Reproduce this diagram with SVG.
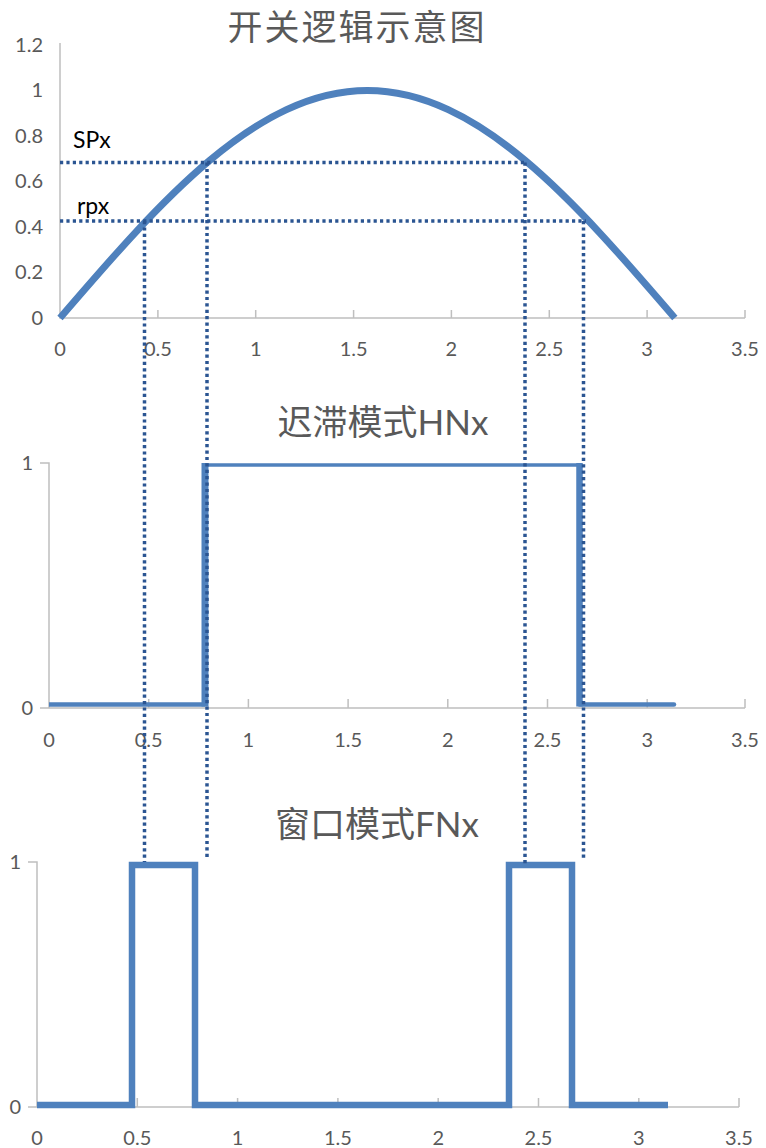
<svg xmlns="http://www.w3.org/2000/svg" width="766" height="1148" viewBox="0 0 766 1148">
<style>
.axis{stroke:#BFBFBF;stroke-width:1.5;fill:none}
.lbl{font-family:Lato,"Liberation Sans","Noto Sans CJK SC",sans-serif;font-size:20px;fill:#595959}
.ylbl{text-anchor:end}
.xlbl{text-anchor:middle}
.title{font-family:Lato,"Noto Sans CJK SC",sans-serif;font-size:35px;fill:#595959;text-anchor:middle}
.sig{stroke:#4F81BD;fill:none}
.dot{stroke:#2B5592;stroke-width:3.5;stroke-dasharray:3.2 3.2;fill:none}
.mark{font-family:Lato,"Liberation Sans",sans-serif;font-size:23px;fill:#000}
</style>
<rect width="766" height="1148" fill="#fff"/>

<g id="chart-sine">
  <text class="title" x="357" y="40" letter-spacing="2">开关逻辑示意图</text>
  <path class="axis" d="M60,43 V318 H745 M157.9,310 V318 M255.7,310 V318 M353.6,310 V318 M451.4,310 V318 M549.3,310 V318 M647.1,310 V318 M745,310 V318"/>
  <g class="lbl ylbl">
    <text x="43" y="52">1.2</text>
    <text x="43" y="97">1</text>
    <text x="43" y="143">0.8</text>
    <text x="43" y="188">0.6</text>
    <text x="43" y="234">0.4</text>
    <text x="43" y="279">0.2</text>
    <text x="43" y="325">0</text>
  </g>
  <g class="lbl xlbl">
    <text x="60" y="356">0</text>
    <text x="157.9" y="356">0.5</text>
    <text x="255.7" y="356">1</text>
    <text x="353.6" y="356">1.5</text>
    <text x="451.4" y="356">2</text>
    <text x="549.3" y="356">2.5</text>
    <text x="647.1" y="356">3</text>
    <text x="745" y="356">3.5</text>
  </g>
  <path class="sig" stroke-width="7" d="M60,318 C160.25,201.45 256.15,90.5 367.4,90.5 C478.66,90.5 574.55,201.45 674.81,318"/>
  <text class="mark" x="73" y="148">SPx</text>
  <text class="mark" x="77" y="214">rpx</text>
</g>

<g id="chart-hnx">
  <text class="title" x="383" y="435">迟滞模式HNx</text>
  <path class="axis" d="M40,463 H49 V708 M40,708 H745 M148.7,699 V708 M248.4,699 V708 M348.1,699 V708 M447.8,699 V708 M547.5,699 V708 M647.2,699 V708 M745,699 V708"/>
  <g class="lbl ylbl">
    <text x="33" y="470">1</text>
    <text x="33" y="715">0</text>
  </g>
  <g class="lbl xlbl">
    <text x="49" y="747">0</text>
    <text x="148.7" y="747">0.5</text>
    <text x="248.4" y="747">1</text>
    <text x="348.1" y="747">1.5</text>
    <text x="447.8" y="747">2</text>
    <text x="547.5" y="747">2.5</text>
    <text x="647.2" y="747">3</text>
    <text x="745" y="747">3.5</text>
  </g>
  <g class="sig">
    <line x1="49" y1="704.5" x2="205" y2="704.5" stroke-width="4.5"/>
    <line x1="205" y1="706.5" x2="205" y2="463" stroke-width="7"/>
    <line x1="205" y1="465" x2="580" y2="465" stroke-width="3.5"/>
    <line x1="579.5" y1="463" x2="579.5" y2="706.5" stroke-width="6.5"/>
    <line x1="579.5" y1="704.5" x2="674" y2="704.5" stroke-width="4.5" stroke-linecap="round"/>
  </g>
</g>

<g id="chart-fnx">
  <text class="title" x="377" y="837">窗口模式FNx</text>
  <path class="axis" d="M28,862 H37 V1107 M28,1107 H739 M137.3,1098 V1107 M237.6,1098 V1107 M337.9,1098 V1107 M438.2,1098 V1107 M538.5,1098 V1107 M638.8,1098 V1107 M739,1098 V1107"/>
  <g class="lbl ylbl">
    <text x="21" y="869">1</text>
    <text x="21" y="1114">0</text>
  </g>
  <g class="lbl xlbl">
    <text x="37" y="1145">0</text>
    <text x="137.3" y="1145">0.5</text>
    <text x="237.6" y="1145">1</text>
    <text x="337.9" y="1145">1.5</text>
    <text x="438.2" y="1145">2</text>
    <text x="538.5" y="1145">2.5</text>
    <text x="638.8" y="1145">3</text>
    <text x="739" y="1145">3.5</text>
  </g>
  <path class="sig" stroke-width="6.5" d="M37,1105 H132 V865 H195 V1105 H509 V865 H572 V1105 H668"/>
</g>

<g id="connectors">
  <path class="dot" d="M60,162.5 H525"/>
  <path class="dot" d="M60,221 H586"/>
  <path class="dot" d="M144.5,221 V862"/>
  <path class="dot" d="M207,162.5 V860"/>
  <path class="dot" d="M525,162.5 V866"/>
  <path class="dot" d="M583.5,221 V861"/>
</g>
</svg>
